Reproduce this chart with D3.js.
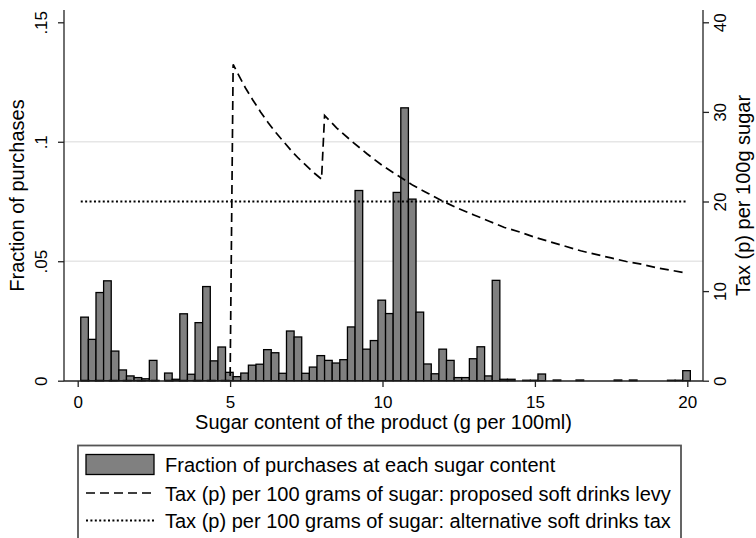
<!DOCTYPE html>
<html>
<head>
<meta charset="utf-8">
<script src="https://cdn.jsdelivr.net/npm/d3@7"></script>
<style>
  body { margin: 0; background: #fff; }
  svg { display: block; font-family: "Liberation Sans", Arial, sans-serif; }
</style>
</head>
<body>
<div id="chart"></div>
<script>
// histogram: fraction of purchases per sugar bin (80 bins of 0.25 g starting at 0.1)
const binStart = 0.1
const binWidth = 0.25
const fractions = [
  0.0266, 0.0173, 0.0369, 0.0418, 0.0124, 0.0045, 0.0020, 0.0013, 0.0008, 0.0085,
  0.0000, 0.0032, 0.0006, 0.0280, 0.0027, 0.0243, 0.0394, 0.0083, 0.0141, 0.0035,
  0.0017, 0.0032, 0.0065, 0.0069, 0.0130, 0.0117, 0.0031, 0.0208, 0.0183, 0.0031,
  0.0057, 0.0105, 0.0085, 0.0074, 0.0088, 0.0225, 0.0796, 0.0132, 0.0168, 0.0337,
  0.0281, 0.0788, 0.1142, 0.0760, 0.0287, 0.0070, 0.0029, 0.0132, 0.0085, 0.0013,
  0.0013, 0.0092, 0.0142, 0.0020, 0.0420, 0.0006, 0.0006, 0.0000, 0.0002, 0.0002,
  0.0028, 0.0000, 0.0003, 0.0000, 0.0000, 0.0003, 0.0000, 0.0000, 0.0000, 0.0000,
  0.0003, 0.0000, 0.0003, 0.0000, 0.0000, 0.0000, 0.0000, 0.0002, 0.0002, 0.0042
]

// proposed levy, tax (p) per 100g of sugar
const levySugar = [0.1, 5.0, 5.1, 5.25, 5.5, 5.75, 6.0, 6.25, 6.5, 6.75, 7.0, 7.25, 7.5, 7.75, 8.0,
  8.1, 8.5, 9.0, 9.5, 10, 10.5, 11, 11.5, 12, 12.5, 13, 13.5, 14, 14.5, 15, 15.5, 16, 16.5, 17, 17.5, 18, 18.5, 19, 19.5, 20]
const levyTax = [0, 0, 35.3, 34.3, 32.7, 31.3, 30.0, 28.8, 27.7, 26.7, 25.7, 24.8, 24.0, 23.2, 22.5,
  29.6, 28.2, 26.7, 25.3, 24.0, 22.9, 21.8, 20.9, 20.0, 19.2, 18.5, 17.8, 17.1, 16.6, 16.0, 15.5, 15.0, 14.5, 14.1, 13.7, 13.3, 13.0, 12.6, 12.3, 12.0]

// alternative tax, flat
const altSugar = [0.1, 20]
const altTax = [20, 20]

const xTicks = [0, 5, 10, 15, 20]
const yLeftTicks = [0, 0.05, 0.1, 0.15]
const yLeftLabels = ["0", ".05", ".1", ".15"]
const yRightTicks = [0, 10, 20, 30, 40]
const gridTicks = [0.05, 0.1]

const legendLabels = [
  "Fraction of purchases at each sugar content",
  "Tax (p) per 100 grams of sugar: proposed soft drinks levy",
  "Tax (p) per 100 grams of sugar: alternative soft drinks tax"
]

const width = 756, height = 538
const frame = { left: 64, right: 703, top: 10, bottom: 381 }

const x = d3.scaleLinear().domain([0, 20]).range([77.7, 687.3])
const yL = d3.scaleLinear().domain([0, 0.15]).range([380.7, 22.3])
const yR = d3.scaleLinear().domain([0, 40]).range([380.7, 22.3])

const svg = d3.select("#chart").append("svg")
  .attr("width", width)
  .attr("height", height)

// grid
svg.append("g")
  .selectAll("line")
  .data(gridTicks)
  .join("line")
  .attr("x1", frame.left).attr("x2", frame.right)
  .attr("y1", d => yL(d)).attr("y2", d => yL(d))
  .attr("stroke", "#e6e6e6")
  .attr("stroke-width", 1.3)

// bars
svg.append("g")
  .selectAll("rect")
  .data(fractions)
  .join("rect")
  .attr("x", (d, i) => x(binStart + i * binWidth))
  .attr("width", x(binWidth) - x(0))
  .attr("y", d => yL(d))
  .attr("height", d => yL(0) - yL(d))
  .attr("fill", d => d > 0 ? "#808080" : "none")
  .attr("stroke", d => d > 0 ? "#000" : "none")
  .attr("stroke-width", 1.3)

const lineL = d3.line()
  .x(d => x(d[0]))
  .y(d => yR(d[1]))

svg.append("path")
  .attr("d", lineL(levySugar.map((s, i) => [s, levyTax[i]])))
  .attr("fill", "none")
  .attr("stroke", "#000")
  .attr("stroke-width", 1.7)
  .attr("stroke-dasharray", "9,5")

svg.append("path")
  .attr("d", lineL(altSugar.map((s, i) => [s, altTax[i]])))
  .attr("fill", "none")
  .attr("stroke", "#000")
  .attr("stroke-width", 2)
  .attr("stroke-dasharray", "2,2.4")

// axes
const axisColor = "#222"
function styleAxis(g) {
  g.select(".domain").remove()
  g.selectAll(".tick line").attr("stroke", axisColor).attr("stroke-width", 1.3)
  g.selectAll("text").attr("fill", "#000").attr("font-size", 17)
}

svg.append("line")
  .attr("x1", frame.left).attr("x2", frame.right)
  .attr("y1", frame.bottom).attr("y2", frame.bottom)
  .attr("stroke", axisColor).attr("stroke-width", 1.3)
svg.append("line")
  .attr("x1", frame.left).attr("x2", frame.left)
  .attr("y1", frame.top).attr("y2", frame.bottom)
  .attr("stroke", axisColor).attr("stroke-width", 1.3)
svg.append("line")
  .attr("x1", frame.right).attr("x2", frame.right)
  .attr("y1", frame.top).attr("y2", frame.bottom)
  .attr("stroke", axisColor).attr("stroke-width", 1.3)

svg.append("g")
  .attr("transform", `translate(0,${frame.bottom})`)
  .call(d3.axisBottom(x).tickValues(xTicks).tickSize(6).tickPadding(8.5).tickFormat(d3.format("d")))
  .call(styleAxis)
  .selectAll("text").attr("dy", "0.71em")

const gl = svg.append("g")
  .attr("transform", `translate(${frame.left},0)`)
  .call(d3.axisLeft(yL).tickValues(yLeftTicks).tickSize(6).tickFormat((d, i) => yLeftLabels[i]))
  .call(styleAxis)
gl.selectAll("text")
  .attr("x", null).attr("dy", null)
  .attr("text-anchor", "middle")
  .attr("transform", "translate(-17,0) rotate(-90)")

const gr = svg.append("g")
  .attr("transform", `translate(${frame.right},0)`)
  .call(d3.axisRight(yR).tickValues(yRightTicks).tickSize(6))
  .call(styleAxis)
gr.selectAll("text")
  .attr("x", null).attr("dy", null)
  .attr("text-anchor", "middle")
  .attr("transform", "translate(23,0) rotate(-90)")

// axis titles
const midY = (frame.top + frame.bottom) / 2
svg.append("text")
  .attr("transform", `translate(24,${midY}) rotate(-90)`)
  .attr("text-anchor", "middle")
  .attr("font-size", 20)
  .text("Fraction of purchases")
svg.append("text")
  .attr("transform", `translate(750,${midY}) rotate(-90)`)
  .attr("text-anchor", "middle")
  .attr("font-size", 20)
  .text("Tax (p) per 100g sugar")
svg.append("text")
  .attr("x", (frame.left + frame.right) / 2)
  .attr("y", 428.5)
  .attr("text-anchor", "middle")
  .attr("font-size", 20)
  .text("Sugar content of the product (g per 100ml)")

// legend
const lg = svg.append("g")
lg.append("rect")
  .attr("x", 78).attr("y", 445.5)
  .attr("width", 603).attr("height", 100)
  .attr("fill", "#fff")
  .attr("stroke", "#555")
  .attr("stroke-width", 1.8)

const rowY = [464.5, 493, 520.5]
lg.append("rect")
  .attr("x", 86).attr("y", rowY[0] - 10)
  .attr("width", 68).attr("height", 20)
  .attr("fill", "#808080").attr("stroke", "#000").attr("stroke-width", 1.3)
lg.append("line")
  .attr("x1", 86).attr("x2", 154).attr("y1", rowY[1]).attr("y2", rowY[1])
  .attr("stroke", "#000").attr("stroke-width", 1.7).attr("stroke-dasharray", "9,5")
lg.append("line")
  .attr("x1", 86).attr("x2", 154).attr("y1", rowY[2]).attr("y2", rowY[2])
  .attr("stroke", "#000").attr("stroke-width", 2).attr("stroke-dasharray", "2,2.4")

lg.selectAll("text.leg")
  .data(legendLabels)
  .join("text")
  .attr("class", "leg")
  .attr("x", 165)
  .attr("y", (d, i) => rowY[i] + 7.5)
  .attr("font-size", 20)
  .text(d => d)
</script>
</body>
</html>
